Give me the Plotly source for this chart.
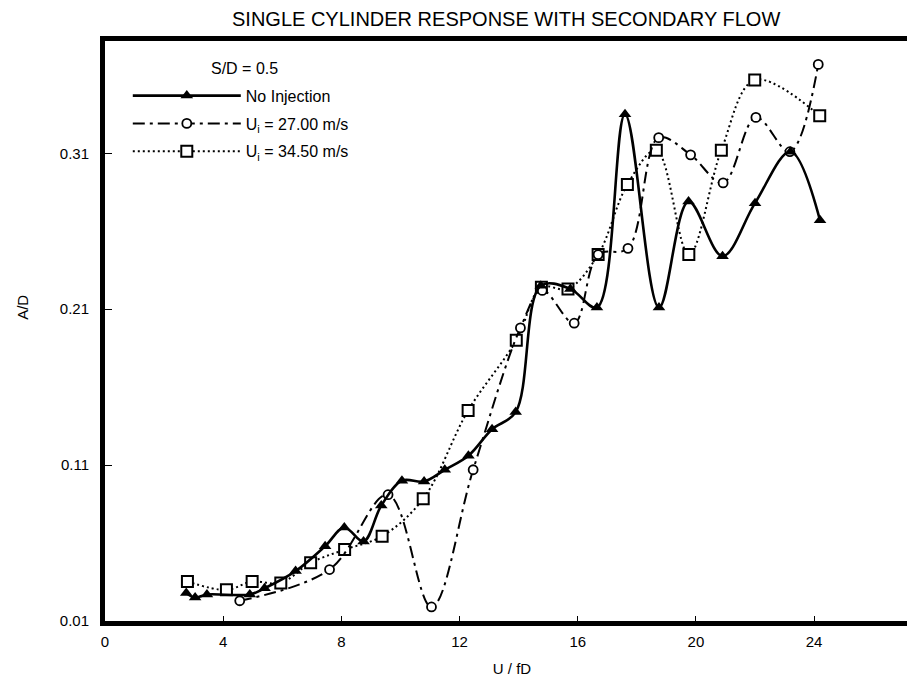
import plotly.graph_objects as go

# ---- data ----
no_inj_x = [2.75, 3.05, 3.45, 4.9, 5.4, 6.45, 7.45, 8.1, 8.75, 9.35, 10.05, 10.8, 11.5, 12.3,
            13.1, 13.9, 14.75, 15.75, 16.65, 17.6, 18.75, 19.75, 20.9, 22.0, 23.2, 24.2]
no_inj_y = [0.028, 0.025, 0.027, 0.027, 0.031, 0.042, 0.058, 0.070, 0.061, 0.084, 0.100, 0.0995,
            0.107, 0.116, 0.133, 0.144, 0.225, 0.223, 0.211, 0.335, 0.211, 0.279, 0.244, 0.278,
            0.311, 0.267]

u27_x = [4.56, 7.6, 9.58, 11.05, 12.46, 14.06, 14.8, 15.88, 16.69, 17.7, 18.74, 19.82, 20.92,
         22.03, 23.18, 24.14]
u27_y = [0.023, 0.043, 0.091, 0.019, 0.107, 0.198, 0.222, 0.201, 0.245, 0.249, 0.320, 0.309,
         0.291, 0.333, 0.311, 0.367]

u34_x = [2.79, 4.11, 4.98, 5.95, 6.96, 8.11, 9.38, 10.77, 12.29, 13.92, 14.77, 15.67, 16.69,
         17.68, 18.66, 19.76, 20.86, 21.99, 24.19]
u34_y = [0.0353, 0.030, 0.0353, 0.0344, 0.0473, 0.0558, 0.0644, 0.0884, 0.145, 0.190, 0.224,
         0.223, 0.245, 0.290, 0.312, 0.245, 0.312, 0.357, 0.334]

x_ticks = [0, 4, 8, 12, 16, 20, 24]
y_ticks = [0.01, 0.11, 0.21, 0.31]
y_tick_labels = ["0.01", "0.11", "0.21", "0.31"]

FONT = "Liberation Sans"

fig = go.Figure()
fig.add_trace(go.Scatter(
    x=u34_x, y=u34_y, mode="lines+markers", name="U<sub>i</sub> = 34.50 m/s",
    line=dict(color="black", width=2, dash="2px,3px", shape="spline", smoothing=1.0),
    marker=dict(symbol="square", size=11, color="white", line=dict(color="black", width=2)),
    legendrank=3, legendgroup="c"))
fig.add_trace(go.Scatter(
    x=u27_x, y=u27_y, mode="lines+markers", name="U<sub>i</sub> = 27.00 m/s",
    line=dict(color="black", width=2, dash="12px,5px,3px,5px", shape="spline", smoothing=1.0),
    marker=dict(symbol="circle", size=9, color="white", line=dict(color="black", width=1.8)),
    legendrank=2, legendgroup="b"))
fig.add_trace(go.Scatter(
    x=no_inj_x, y=no_inj_y, mode="lines+markers", name="No Injection",
    line=dict(color="black", width=2.6, shape="spline", smoothing=1.0),
    marker=dict(symbol="triangle-up", size=11, color="black"),
    legendrank=1, legendgroup="a"))

fig.update_layout(
    width=915, height=682,
    margin=dict(l=97, r=4, t=33, b=69, autoexpand=False),
    paper_bgcolor="white", plot_bgcolor="white",
    font=dict(family=FONT, size=15, color="black"),
    showlegend=True,
    legend=dict(x=0.028, y=0.935, xanchor="left", yanchor="top", bgcolor="rgba(0,0,0,0)",
                font=dict(size=16), itemwidth=108, traceorder="grouped", tracegroupgap=4),
    annotations=[
        dict(text="SINGLE CYLINDER RESPONSE WITH SECONDARY FLOW", xref="paper", yref="paper",
             x=0.493, y=1.0, yshift=22, xanchor="center", yanchor="middle", showarrow=False,
             font=dict(size=20)),
        dict(text="S/D = 0.5", xref="paper", yref="paper", x=0.128, y=0.953,
             xanchor="left", yanchor="middle", showarrow=False, font=dict(size=16)),
        dict(text="A/D", xref="paper", yref="paper", x=0, xshift=-82, y=0.54,
             xanchor="center", yanchor="middle", textangle=-90, showarrow=False,
             font=dict(size=15)),
    ],
)
fig.update_xaxes(range=[0, 27.55], tickvals=x_ticks, ticks="inside", ticklen=5, tickwidth=1,
                 tickcolor="black", showline=True, linewidth=5, linecolor="black", mirror=True,
                 showgrid=False, zeroline=False, ticklabelstandoff=3, automargin=False,
                 title=dict(text="U / fD", standoff=16, font=dict(size=15)))
fig.update_yaxes(range=[0.01, 0.382], tickvals=y_ticks, ticktext=y_tick_labels, ticks="inside",
                 ticklen=7, tickwidth=1, tickcolor="black", showline=True, linewidth=5,
                 linecolor="black", mirror=True, showgrid=False, zeroline=False,
                 ticklabelstandoff=8, automargin=False)

fig.write_html("out.html")
